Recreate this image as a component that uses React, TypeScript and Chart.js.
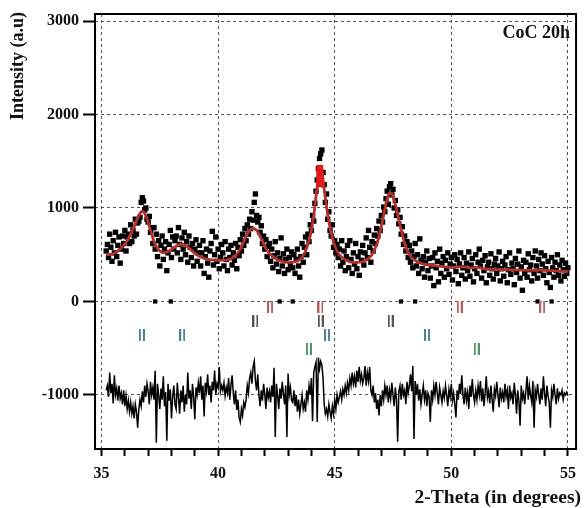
import { useEffect, useRef } from 'react';
import { Chart, registerables } from 'chart.js';

Chart.register(...registerables);

// 2-theta sampling grid of the measured pattern
const THETA_START = 35.2;
const THETA_STEP = 0.05;

// Observed intensity (black points), one value per step from 35.20 to 55.00
const observed = [
  540, 610, 470, 720, 580, 430, 650, 520, 740, 480, 600, 690, 410, 560, 700, 620, 760, 540, 690, 720,
  620, 820, 640, 760, 700, 880, 720, 840, 860, 900, 1060, 1110, 1075, 980, 1000, 880, 850, 910, 740, 790,
  620, 790, 560, 720, 480, 650, 380, 600, 700, 450, 560, 640, 330, 520, 610, 760, 470, 690, 560, 650,
  700, 520, 790, 610, 450, 680, 560, 740, 500, 640, 420, 700, 580, 470, 620, 380, 560, 660, 430, 520,
  600, 380, 520, 650, 300, 480, 560, 410, 260, 540, 620, 750, 390, 500, 690, 430, 560, 350, 470, 610,
  520, 380, 640, 450, 330, 560, 470, 600, 390, 520, 440, 620, 350, 580, 490, 660, 540, 720, 600, 780,
  650, 820, 720, 880, 780, 960, 870, 1060, 1150, 920, 850, 900, 740, 810, 620, 700, 560, 660, 480, 590,
  620, 430, 560, 360, 490, 640, 400, 520, 320, 460, 680, 380, 510, 300, 450, 560, 340, 470, 390, 530,
  360, 500, 300, 450, 560, 380, 260, 480, 620, 420, 580, 690, 500, 720, 640, 820, 760, 920, 860, 1050,
  1180, 1300, 1420, 1530, 1580, 1620, 1380, 1250, 1060, 1150, 880, 960, 760, 700, 820, 580, 650, 520, 610, 470,
  560, 380, 650, 420, 540, 330, 480, 600, 360, 650, 450, 300, 520, 400, 620, 350, 480, 280, 530, 440,
  600, 390, 520, 680, 470, 760, 580, 420, 640, 540, 710, 620, 780, 700, 860, 760, 920, 850, 1010, 960,
  1100, 1180, 1040, 1230, 1260, 1140, 1200, 1000, 1080, 920, 980, 830, 900, 720, 800, 610, 700, 540, 640, 470,
  600, 420, 540, 360, 480, 620, 380, 500, 300, 670, 440, 350, 480, 260, 420, 540, 330, 460, 250, 380,
  470, 170, 520, 360, 430, 210, 560, 300, 410, 480, 260, 440, 350, 520, 290, 400, 470, 230, 380, 500,
  320, 450, 190, 400, 520, 280, 360, 470, 240, 410, 330, 530, 270, 390, 460, 210, 350, 500, 300, 420,
  560, 380, 250, 440, 330, 490, 200, 370, 420, 280, 510, 350, 240, 400, 460, 300, 380, 530, 220, 350,
  430, 270, 390, 480, 200, 340, 520, 290, 410, 350, 180, 460, 310, 400, 540, 250, 370, 120, 440, 300,
  420, 260, 510, 340, 390, 220, 470, 300, 540, 380, 250, 450, 330, 520, 400, 280, 490, 350, 200, 430,
  310, 150, 470, 360, 260, 420, 330, 500, 280, 390, 220, 440, 340, 270, 410, 300, 360,
];

// Difference curve (offset to the -1000 baseline), same sampling grid
const difference = [
  -950, -900, -1020, -760, -980, -880, -1090, -790, -1000, -930, -1060, -900, -1040, -980, -1100, -950, -1120, -1010, -1150, -1060,
  -1180, -1080, -1200, -1120, -1250, -1100, -1180, -1350, -1150, -1050, -1120, -960, -1080, -900, -1020, -880, -960, -1100, -860, -1000,
  -920, -1050, -740, -1510, -880, -1000, -1150, -930, -1050, -800, -1120, -970, -1490, -880, -1060, -940, -1250, -1020, -900, -1100,
  -1150, -870, -1030, -1200, -950, -1080, -900, -1180, -1000, -1100, -760, -1040, -950, -1150, -880, -1020, -1260, -920, -1000, -870,
  -980, -800, -1050, -900, -1230, -870, -960, -780, -1000, -900, -1080, -860, -950, -740, -1000, -880, -920, -700, -960, -900,
  -950, -870, -1010, -920, -980, -820, -1050, -900, -790, -980, -1100, -950, -1160, -1050, -1240, -1290, -1150, -1220, -1080, -1130,
  -1050, -900, -980, -820, -760, -880, -700, -640, -850, -950, -780, -1000, -1120, -950, -1060, -880, -990, -1150, -920, -1030,
  -960, -1080, -900, -1020, -710, -1450, -880, -1000, -1150, -930, -1040, -860, -980, -1100, -900, -1450, -770, -1000, -920, -1060,
  -1080, -950, -1120, -1000, -1180, -1050, -1200, -1100, -1000, -1150, -1080, -1180, -950, -1050, -900, -1000, -820, -1280, -760, -700,
  -650, -1290, -600, -720, -640, -680, -820, -1100, -1200, -1150, -1230, -1100, -1180, -1250, -1120, -1200, -1050, -1150, -1000, -1080,
  -1020, -960, -1050, -940, -1000, -900, -980, -870, -950, -820, -900, -760, -880, -800, -920, -740, -860, -700, -850, -780,
  -880, -820, -690, -900, -760, -850, -700, -950, -1000, -900, -1080, -980, -1150, -1050, -1220, -1000, -1120, -950, -1050, -900,
  -1000, -900, -1080, -950, -1040, -870, -1000, -1120, -920, -1050, -1500, -960, -900, -1050, -880, -1000, -950, -1100, -860, -980,
  -900, -780, -960, -690, -1470, -850, -1000, -880, -1060, -940, -1100, -1000, -900, -1050, -950, -1120, -980, -1020, -1290, -950,
  -1050, -900, -1000, -860, -980, -1100, -920, -1000, -1080, -960, -1030, -900, -1000, -1120, -940, -1020, -880, -1060, -980, -1100,
  -1240, -950, -1050, -880, -990, -790, -1000, -1100, -920, -1060, -970, -1150, -900, -1020, -830, -1000, -1080, -950, -1050, -900,
  -1000, -850, -1070, -930, -1120, -980, -800, -1030, -960, -1090, -900, -1050, -1180, -940, -1010, -860, -1000, -1130, -920, -1040,
  -970, -1080, -880, -1020, -950, -1150, -900, -1030, -980, -1100, -870, -1000, -1200, -950, -1060, -1330, -900, -1040, -980, -1100,
  -950, -800, -1050, -900, -1000, -1080, -850, -1350, -950, -1020, -880, -1000, -1100, -930, -1050, -800, -980, -1120, -900, -1010,
  -1080, -1350, -950, -1020, -880, -1000, -1100, -930, -1040, -980, -1000, -950, -1050, -980, -1000, -970, -1010,
];

// Calculated (fitted) profile, red line
const calcTheta = [
  35.2, 35.5, 35.8, 36.1, 36.4, 36.6, 36.75, 36.9, 37.1, 37.3, 37.5, 37.7, 37.9, 38.1, 38.3, 38.45, 38.6, 38.8,
  39.0, 39.3, 39.6, 40.0, 40.4, 40.7, 40.95, 41.15, 41.35, 41.5, 41.65, 41.85, 42.1, 42.4, 42.7, 43.0, 43.3,
  43.55, 43.75, 43.95, 44.1, 44.25, 44.35, 44.4, 44.45, 44.55, 44.7, 44.85, 45.0, 45.2, 45.5, 45.8, 46.1, 46.4,
  46.65, 46.85, 47.05, 47.2, 47.35, 47.45, 47.6, 47.8, 48.0, 48.2, 48.5, 48.8, 49.2, 49.6, 50.0, 50.3, 50.5,
  50.8, 51.1, 51.4, 52.0, 52.5, 53.0, 53.5, 53.9, 54.3, 55.0,
];
const calcIntensity = [
  500, 510, 560, 650, 800, 920, 965, 920, 760, 610, 540, 520, 540, 575, 605, 612, 600, 560,
  515, 470, 450, 440, 445, 480, 560, 670, 760, 785, 760, 670, 545, 470, 430, 418, 425,
  460, 540, 700, 920, 1230, 1420, 1450, 1400, 1200, 930, 730, 600, 500, 440, 418, 420, 450,
  520, 650, 860, 1050, 1160, 1150, 1040, 820, 620, 500, 430, 400, 385, 375, 365, 370, 372,
  360, 365, 350, 342, 340, 335, 333, 338, 330, 320,
];

// Bright red segment at the top of the main peak
const peakBarTheta = [44.36, 44.36];
const peakBarIntensity = [1220, 1460];

// Small black marks on the zero line
const zeroMarkTheta = [37.3, 37.97, 42.64, 43.2, 47.84, 48.45, 53.7, 54.3];

// Bragg reflection positions for four phases, and the level of each row
const braggRedTheta = [42.23, 44.39, 50.36, 53.9];
const braggRedLevel = -62;
const braggGrayTheta = [41.6, 44.4, 47.4];
const braggGrayLevel = -212;
const braggTealTheta = [36.73, 38.46, 44.67, 48.96];
const braggTealLevel = -357;
const braggGreenTheta = [43.89, 51.09];
const braggGreenLevel = -513;

// Axes
const xTicks = [35, 36, 37, 38, 39, 40, 41, 42, 43, 44, 45, 46, 47, 48, 49, 50, 51, 52, 53, 54, 55];
const xLabels = [35, 40, 45, 50, 55];
const yTicks = [-1000, 0, 1000, 2000, 3000];

const FONT = "'Liberation Serif', 'Times New Roman', serif";

function makeBraggMark(color: string): HTMLCanvasElement {
  const c = document.createElement('canvas');
  c.width = 6;
  c.height = 12;
  const g = c.getContext('2d')!;
  g.fillStyle = color;
  g.fillRect(0, 0, 2, 12);
  g.fillRect(4, 0, 2, 12);
  return c;
}

const decorPlugin = {
  id: 'decor',
  afterDraw(chart: any) {
    const { ctx, chartArea } = chart;
    ctx.save();
    ctx.strokeStyle = '#000';
    ctx.lineWidth = 2;
    ctx.strokeRect(chartArea.left, chartArea.top, chartArea.right - chartArea.left, chartArea.bottom - chartArea.top);
    ctx.fillStyle = '#111';
    ctx.textAlign = 'right';
    ctx.textBaseline = 'middle';
    ctx.font = `bold 18px ${FONT}`;
    ctx.fillText('CoC 20h', 570, 33);
    ctx.font = `bold 19.5px ${FONT}`;
    ctx.fillText('2-Theta (in degrees)', 581, 498);
    ctx.font = `bold 18px ${FONT}`;
    ctx.translate(18, 66);
    ctx.rotate(-Math.PI / 2);
    ctx.textAlign = 'center';
    ctx.fillText('Intensity (a.u)', 0, 0);
    ctx.restore();
  },
};

export default function App() {
  const ref = useRef<HTMLCanvasElement>(null);

  useEffect(() => {
    document.body.style.margin = '0';
    const thetaAt = (i: number) => Number((THETA_START + i * THETA_STEP).toFixed(2));
    const obsPoints = observed.map((y, i) => ({ x: thetaAt(i), y }));
    const diffPoints = difference.map((y, i) => ({ x: thetaAt(i), y }));
    const calcPoints = calcTheta.map((x, i) => ({ x, y: calcIntensity[i] }));
    const barPoints = peakBarTheta.map((x, i) => ({ x, y: peakBarIntensity[i] }));
    const rowPoints = (arr: number[], level: number) => arr.map((x) => ({ x, y: level }));

    const chart = new Chart(ref.current!, {
      type: 'scatter',
      data: {
        datasets: [
          {
            data: barPoints,
            showLine: true,
            borderColor: '#e3191c',
            borderWidth: 7,
            pointRadius: 0,
          },
          {
            data: calcPoints,
            showLine: true,
            borderColor: '#b3302c',
            borderWidth: 2.8,
            pointRadius: 0,
            cubicInterpolationMode: 'monotone',
          },
          {
            data: rowPoints(braggRedTheta, braggRedLevel),
            pointStyle: makeBraggMark('#b8615c'),
            pointRadius: 6,
          },
          {
            data: rowPoints(braggGrayTheta, braggGrayLevel),
            pointStyle: makeBraggMark('#555555'),
            pointRadius: 6,
          },
          {
            data: rowPoints(braggTealTheta, braggTealLevel),
            pointStyle: makeBraggMark('#4f8196'),
            pointRadius: 6,
          },
          {
            data: rowPoints(braggGreenTheta, braggGreenLevel),
            pointStyle: makeBraggMark('#4f9466'),
            pointRadius: 6,
          },
          {
            data: rowPoints(zeroMarkTheta, 0),
            pointStyle: 'rect',
            pointRadius: 3,
            backgroundColor: '#000',
            borderWidth: 0,
          },
          {
            data: obsPoints,
            pointStyle: 'rect',
            pointRadius: 3.8,
            backgroundColor: '#000',
            borderWidth: 0,
          },
          {
            data: diffPoints,
            showLine: true,
            borderColor: '#000',
            borderWidth: 1.5,
            pointRadius: 0,
          },
        ] as any,
      },
      options: {
        responsive: false,
        animation: false,
        devicePixelRatio: 1,
        layout: { padding: { top: 14, right: 0, left: 0, bottom: 0 } },
        plugins: {
          legend: { display: false },
          tooltip: { enabled: false },
          title: { display: false },
        },
        scales: {
          x: {
            type: 'linear',
            min: 34.72,
            max: 55.35,
            afterBuildTicks: (axis: any) => {
              axis.ticks = xTicks.map((v) => ({ value: v }));
            },
            afterFit: (axis: any) => {
              axis.height = 59;
            },
            border: { display: false, dash: [3, 3] },
            grid: {
              color: (c: any) => (c.tick && xLabels.includes(c.tick.value) ? '#555' : 'rgba(0,0,0,0)'),
              lineWidth: 1,
              tickColor: '#000',
              tickWidth: 2,
              tickLength: 7,
            },
            ticks: {
              autoSkip: false,
              maxRotation: 0,
              padding: 8,
              color: '#111',
              font: { family: FONT, size: 16, weight: 'bold' },
              callback: (v: any) => (xLabels.includes(Number(v)) ? String(v) : ''),
            },
          },
          y: {
            type: 'linear',
            min: -1578,
            max: 3075,
            afterBuildTicks: (axis: any) => {
              axis.ticks = yTicks.map((v) => ({ value: v }));
            },
            afterFit: (axis: any) => {
              axis.width = 95;
            },
            border: { display: false, dash: [3, 3] },
            grid: {
              color: '#555',
              lineWidth: 1,
              tickColor: '#000',
              tickWidth: 2,
              tickLength: 12,
            },
            ticks: {
              padding: 4,
              color: '#111',
              font: { family: FONT, size: 16, weight: 'bold' },
              callback: (v: any) => String(v),
            },
          },
        },
      } as any,
      plugins: [decorPlugin],
    });
    return () => chart.destroy();
  }, []);

  return (
    <div style={{ position: 'fixed', left: 0, top: 0, width: 584, height: 508, background: '#fff' }}>
      <canvas ref={ref} width={584} height={508} style={{ display: 'block', width: 584, height: 508 }} />
    </div>
  );
}
